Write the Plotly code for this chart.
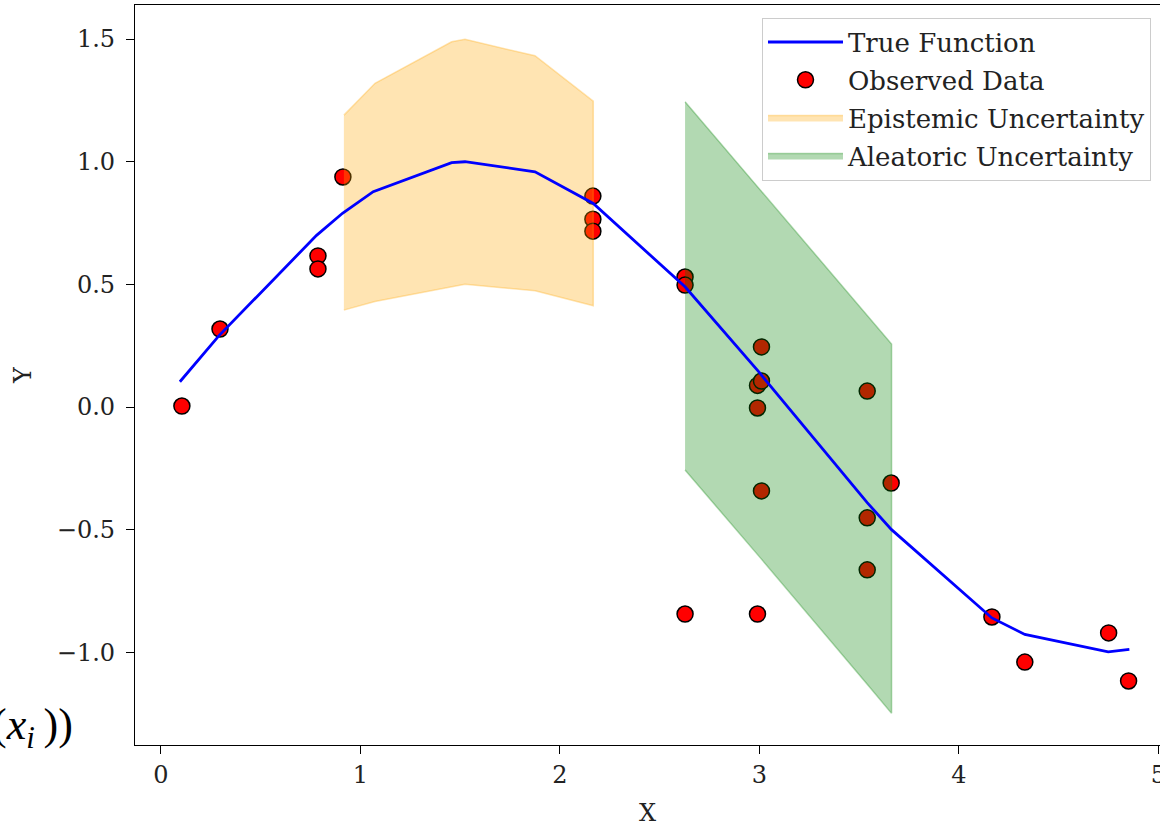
import plotly.graph_objects as go

# True function (line vertices)
line_x = [0.095, 0.29, 0.78, 0.91, 1.064, 1.457, 1.524, 1.875, 2.167, 2.627, 3.0, 3.02, 3.54, 3.662, 4.165, 4.33, 4.748, 4.854]
line_y = [0.103, 0.29, 0.70, 0.79, 0.878, 0.996, 1.0, 0.959, 0.83, 0.49, 0.14, 0.12, -0.39, -0.50, -0.86, -0.927, -0.998, -0.988]

# Observed data points
obs_x = [0.105, 0.296, 0.787, 0.787, 0.912, 2.165, 2.165, 2.165, 2.627, 2.627, 2.627, 2.99,
         3.01, 2.99, 3.01, 2.99, 3.01, 3.54, 3.54, 3.54, 3.66, 4.165, 4.33, 4.75, 4.85]
obs_y = [0.004, 0.318, 0.616, 0.563, 0.938, 0.860, 0.766, 0.717, 0.530, 0.497, -0.844, -0.844,
         0.245, 0.088, 0.106, -0.004, -0.342, 0.065, -0.452, -0.664, -0.310, -0.856, -1.040, -0.921, -1.117]

# Epistemic uncertainty band
epi_x = [0.917, 1.073, 1.457, 1.524, 1.875, 2.167]
epi_upper = [1.19, 1.32, 1.489, 1.499, 1.432, 1.247]
epi_lower = [0.395, 0.43, 0.49, 0.50, 0.474, 0.413]

# Aleatoric uncertainty band
ale_x = [2.627, 3.0, 3.54, 3.662]
ale_upper = [1.245, 0.889, 0.37, 0.257]
ale_lower = [-0.257, -0.611, -1.13, -1.249]

x_ticks = [0, 1, 2, 3, 4, 5]
y_ticks = [-1.0, -0.5, 0.0, 0.5, 1.0, 1.5]

FONT = "DejaVu Serif"

fig = go.Figure()

fig.add_trace(go.Scatter(
    x=obs_x, y=obs_y, mode="markers", name="Observed Data",
    marker=dict(size=16, color="red", line=dict(color="black", width=1.5)),
    legendrank=2, legendgroup="b",
))

fig.add_trace(go.Scatter(
    x=epi_x + epi_x[::-1], y=epi_upper + epi_lower[::-1],
    mode="lines", fill="toself", name="Epistemic Uncertainty",
    fillcolor="rgba(255,165,0,0.3)", line=dict(color="rgba(255,165,0,0.3)", width=1.5),
    legendrank=3, legendgroup="c",
))

fig.add_trace(go.Scatter(
    x=ale_x + ale_x[::-1], y=ale_upper + ale_lower[::-1],
    mode="lines", fill="toself", name="Aleatoric Uncertainty",
    fillcolor="rgba(0,128,0,0.3)", line=dict(color="rgba(0,128,0,0.3)", width=1.5),
    legendrank=4, legendgroup="d",
))

fig.add_trace(go.Scatter(
    x=line_x, y=line_y, mode="lines", name="True Function",
    line=dict(color="blue", width=2.8),
    legendrank=1, legendgroup="a",
))

fig.add_annotation(
    text="(<i>x</i><sub><i>i</i></sub>\u2009))", xref="paper", yref="paper",
    x=-0.0585, y=0.024, xanchor="right", yanchor="middle", showarrow=False,
    font=dict(family="Liberation Serif", size=44, color="black"),
)

fig.update_layout(
    width=1160, height=828,
    margin=dict(l=135, r=0, t=5, b=83),
    plot_bgcolor="white", paper_bgcolor="white",
    font=dict(family=FONT, size=24, color="#222222"),
    showlegend=True,
    legend=dict(
        x=0.6117, y=0.983, xanchor="left", yanchor="top",
        bgcolor="rgba(255,255,255,0.8)", bordercolor="#cccccc", borderwidth=1,
        font=dict(family=FONT, size=26, color="#222222"),
        tracegroupgap=1, itemwidth=75,
    ),
    xaxis=dict(
        range=[-0.13, 5.0075], tickvals=x_ticks, ticktext=[str(t) for t in x_ticks],
        automargin=False, ticklabeloverflow="allow",
        showgrid=False, zeroline=False, showline=True, linecolor="black", linewidth=1.3,
        mirror=True, ticks="outside", ticklen=8, tickwidth=1.2, tickcolor="black",
        title=dict(text="X", standoff=16, font=dict(family=FONT, size=24)),
    ),
    yaxis=dict(
        range=[-1.378, 1.639], tickvals=y_ticks, ticktext=["\u22121.0", "\u22120.5", "0.0", "0.5", "1.0", "1.5"],
        automargin=False,
        showgrid=False, zeroline=False, showline=True, linecolor="black", linewidth=1.3,
        mirror=False, ticks="outside", ticklen=8, tickwidth=1.2, tickcolor="black",
        ticklabelstandoff=6,
        title=dict(text="Y", standoff=18, font=dict(family=FONT, size=24)),
    ),
)

fig.write_html(
    "out.html",
    config={"displayModeBar": False},
    post_script="document.body.style.margin='0px';document.body.style.overflow='hidden';",
)
